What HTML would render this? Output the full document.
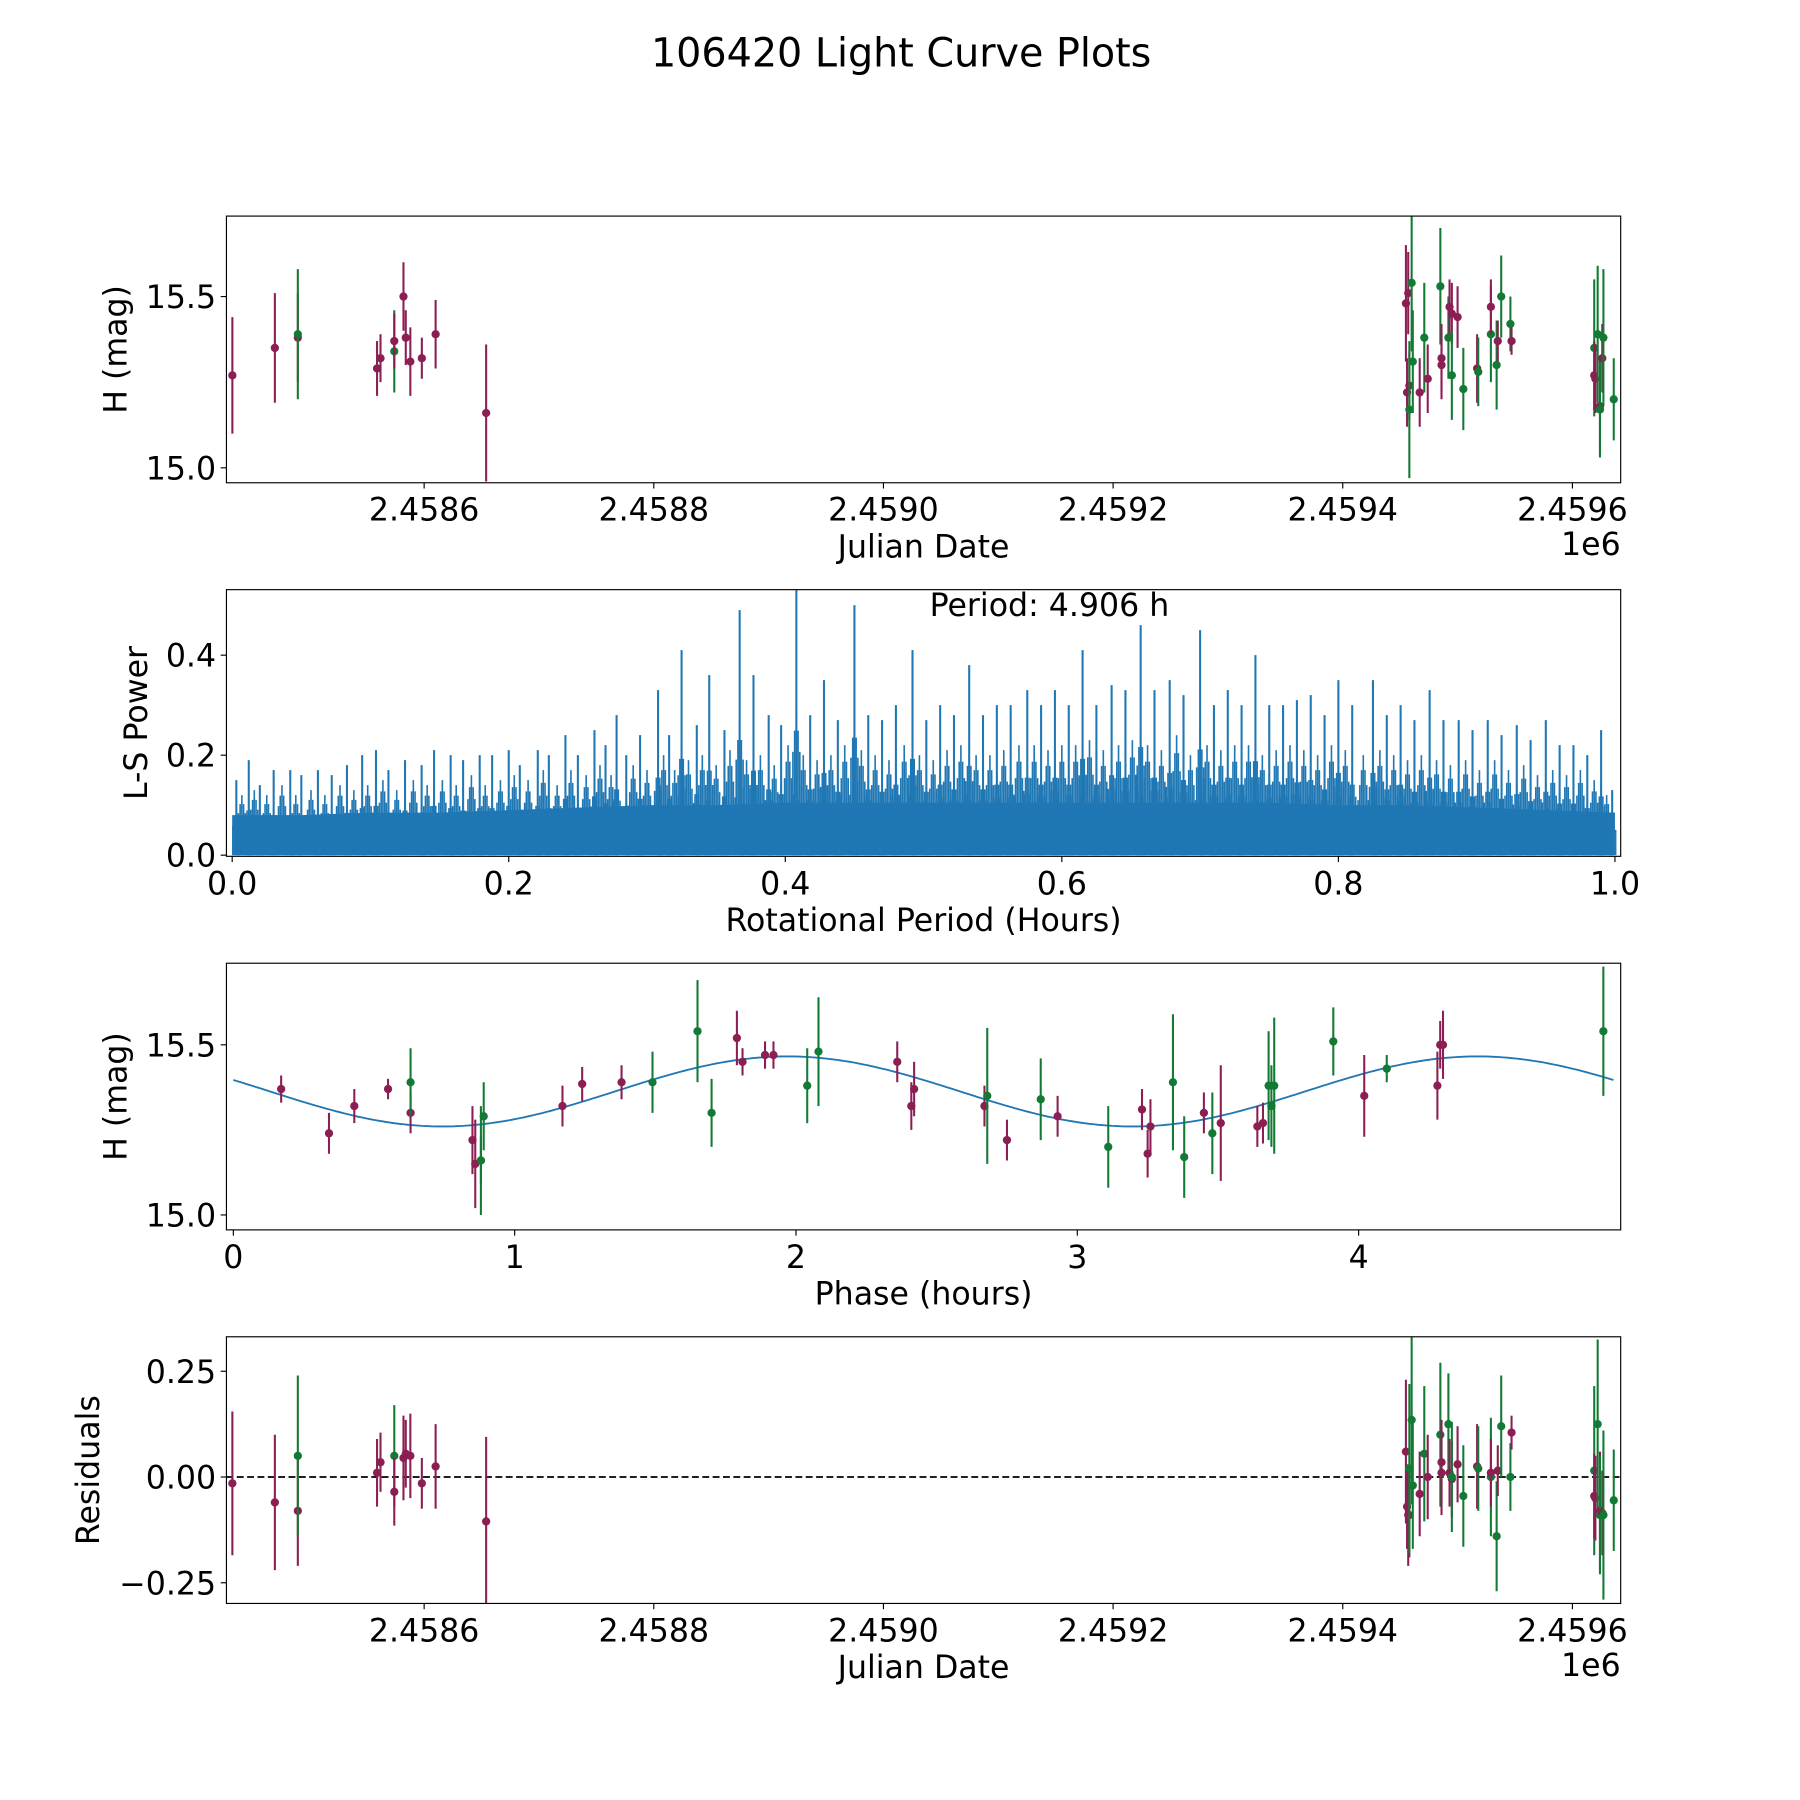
<!DOCTYPE html>
<html><head><meta charset="utf-8"><title>106420 Light Curve Plots</title>
<style>html,body{margin:0;padding:0;background:#fff}svg{display:block}text{font-family:"DejaVu Sans","Liberation Sans",sans-serif;fill:#000}</style>
</head><body>
<svg id="fig" xmlns="http://www.w3.org/2000/svg" width="1800" height="1800" viewBox="0 0 1566 1566">
<rect x="0" y="0" width="1566" height="1566" fill="#fff"/>
<text x="784" y="58" font-size="34.5" text-anchor="middle">106420 Light Curve Plots</text>
<g id="p1"></g>
<g id="p2"></g>
<g id="p3"></g>
<g id="p4"></g>
</svg>
<script>
// ---- data ----
const lcDays=[-167,-130,-110,-110,-41,-38,-26,-26,-18,-16,-12,-2,10,54,
 855,857,860,856,858,858,861,867,871,874,885,886,886,892,893,895,895,900,905,917,918,929,929,934,935,938,946,947,1019,1019,1020,1022,1024,1024,1026,1027,1036];
const lcMag=[15.27,15.35,15.38,15.39,15.29,15.32,15.34,15.37,15.50,15.38,15.31,15.32,15.39,15.16,
 15.48,15.51,15.54,15.22,15.24,15.17,15.31,15.22,15.38,15.26,15.53,15.32,15.30,15.38,15.47,15.45,15.27,15.44,15.23,15.29,15.28,15.39,15.47,15.30,15.37,15.50,15.42,15.37,15.35,15.27,15.26,15.39,15.18,15.17,15.32,15.38,15.20];
const lcErr=[0.17,0.16,0.13,0.19,0.08,0.07,0.12,0.08,0.10,0.08,0.10,0.06,0.10,0.20,
 0.17,0.12,0.2,0.1,0.1,0.2,0.15,0.1,0.16,0.1,0.17,0.1,0.1,0.12,0.08,0.09,0.13,0.09,0.12,0.1,0.1,0.14,0.08,0.13,0.06,0.12,0.08,0.04,0.2,0.1,0.1,0.2,0.14,0.14,0.1,0.2,0.12];
const lcBand=[1,1,1,0,1,1,0,1,1,1,1,1,1,1,
 1,1,0,1,1,0,0,1,0,1,0,1,1,0,1,1,0,1,0,1,0,0,1,0,1,0,0,1,0,1,1,0,1,0,1,0,0].map(b=>b?0:1);
const resid=[-0.015,-0.06,-0.08,0.05,0.01,0.035,0.05,-0.035,0.045,0.055,0.05,-0.015,0.025,-0.105,
 0.06,-0.09,0.135,-0.07,-0.09,0.02,-0.02,-0.04,0.055,0.0,0.10,0.035,0.01,0.125,0.01,-0.005,0.0,0.03,-0.045,0.025,0.02,0.0,0.01,-0.14,0.015,0.12,0.0,0.105,0.015,-0.045,-0.05,0.125,-0.08,-0.09,-0.085,-0.09,-0.055];
const phHours=[0.17,0.34,0.43,0.55,0.63,0.63,0.85,0.86,0.88,0.88,0.89,1.17,1.24,1.38,1.49,1.65,1.70,1.79,1.81,1.89,1.92,2.04,2.08,2.36,2.41,2.42,2.67,2.68,2.75,2.87,2.93,3.11,3.23,3.25,3.26,3.34,3.38,3.45,3.48,3.51,3.64,3.66,3.68,3.69,3.70,3.91,4.02,4.10,4.28,4.29,4.30,4.87];
const phMag=[15.37,15.24,15.32,15.37,15.30,15.39,15.22,15.15,15.16,15.16,15.29,15.32,15.385,15.39,15.39,15.54,15.30,15.52,15.45,15.47,15.47,15.38,15.48,15.45,15.32,15.37,15.32,15.35,15.22,15.34,15.29,15.20,15.31,15.18,15.26,15.39,15.17,15.30,15.24,15.27,15.26,15.27,15.38,15.32,15.38,15.51,15.35,15.43,15.38,15.50,15.50,15.54];
const phErr=[0.04,0.06,0.05,0.03,0.06,0.1,0.1,0.13,0.07,0.16,0.1,0.06,0.05,0.05,0.09,0.15,0.1,0.08,0.04,0.04,0.04,0.11,0.16,0.06,0.07,0.08,0.06,0.2,0.06,0.12,0.06,0.12,0.06,0.07,0.08,0.2,0.12,0.06,0.12,0.17,0.06,0.06,0.16,0.12,0.2,0.1,0.12,0.04,0.1,0.07,0.1,0.19];
const phBand=[0,0,0,0,0,1,0,0,0,1,1,0,0,0,1,1,1,0,0,0,0,1,1,0,0,0,0,1,0,1,0,1,0,0,0,1,1,0,1,0,0,0,1,1,1,1,0,1,0,0,0,1];
const modelMean=15.363, modelAmp=0.103, modelPeak=1.97, modelHalfPeriod=2.453, phaseMax=4.906;
const pgBaseX=[0,0.05,0.1,0.15,0.2,0.25,0.3,0.35,0.4,0.45,0.5,0.55,0.6,0.65,0.7,0.75,0.8,0.85,0.9,0.95,1.0];
const pgBaseY=[0.08,0.08,0.085,0.085,0.09,0.095,0.1,0.1,0.105,0.105,0.105,0.105,0.105,0.105,0.105,0.105,0.1,0.1,0.095,0.09,0.085];
const pgPeakX=[0.003,0.012,0.02,0.03,0.042,0.05,0.062,0.072,0.083,0.094,0.104,0.113,0.125,0.137,0.146,0.158,0.167,0.179,0.188,0.2,0.208,0.221,0.229,0.241,0.25,0.262,0.27,0.278,0.285,0.295,0.308,0.316,0.325,0.336,0.345,0.356,0.367,0.377,0.388,0.397,0.408,0.418,0.428,0.438,0.45,0.46,0.47,0.48,0.492,0.502,0.512,0.522,0.533,0.543,0.553,0.563,0.575,0.585,0.595,0.605,0.615,0.625,0.636,0.646,0.657,0.667,0.678,0.688,0.70,0.71,0.72,0.73,0.74,0.75,0.76,0.77,0.78,0.79,0.80,0.81,0.825,0.835,0.845,0.855,0.866,0.876,0.887,0.897,0.908,0.918,0.929,0.939,0.95,0.96,0.97,0.98,0.99,0.998];
const pgPeakY=[0.15,0.19,0.14,0.17,0.17,0.16,0.17,0.16,0.18,0.2,0.21,0.17,0.19,0.18,0.21,0.2,0.19,0.2,0.2,0.21,0.18,0.21,0.2,0.24,0.2,0.25,0.22,0.28,0.2,0.24,0.33,0.24,0.41,0.26,0.36,0.25,0.49,0.36,0.28,0.26,0.53,0.28,0.35,0.27,0.50,0.28,0.27,0.3,0.41,0.27,0.3,0.28,0.38,0.28,0.3,0.3,0.33,0.3,0.33,0.3,0.41,0.3,0.34,0.33,0.46,0.33,0.35,0.32,0.45,0.3,0.33,0.3,0.40,0.3,0.3,0.31,0.32,0.28,0.35,0.3,0.35,0.28,0.3,0.27,0.33,0.27,0.27,0.25,0.27,0.24,0.26,0.23,0.27,0.22,0.22,0.2,0.25,0.13];
const pgMidX=[0.007,0.016,0.025,0.036,0.046,0.057,0.067,0.078,0.088,0.098,0.109,0.119,0.131,0.141,0.152,0.162,0.173,0.183,0.194,0.204,0.214,0.225,0.235,0.245,0.256,0.266,0.274,0.29,0.3,0.312,0.32,0.33,0.34,0.35,0.36,0.372,0.382,0.392,0.402,0.413,0.423,0.433,0.443,0.455,0.465,0.475,0.486,0.497,0.507,0.517,0.527,0.538,0.548,0.558,0.569,0.58,0.59,0.6,0.61,0.62,0.63,0.641,0.651,0.662,0.672,0.683,0.693,0.705,0.715,0.725,0.735,0.745,0.755,0.765,0.775,0.785,0.795,0.805,0.818,0.83,0.84,0.85,0.86,0.871,0.881,0.892,0.902,0.913,0.923,0.934,0.944,0.955,0.965,0.975,0.985,0.994];
const pgMidY=[0.12,0.13,0.12,0.14,0.12,0.13,0.12,0.14,0.13,0.14,0.15,0.13,0.15,0.14,0.15,0.14,0.16,0.14,0.15,0.16,0.15,0.17,0.14,0.17,0.16,0.18,0.16,0.18,0.17,0.2,0.17,0.19,0.2,0.18,0.21,0.19,0.2,0.18,0.22,0.2,0.19,0.2,0.22,0.21,0.2,0.19,0.22,0.2,0.19,0.21,0.22,0.2,0.2,0.21,0.22,0.22,0.21,0.22,0.22,0.23,0.21,0.22,0.23,0.22,0.21,0.24,0.2,0.22,0.21,0.22,0.22,0.2,0.21,0.22,0.21,0.2,0.22,0.21,0.2,0.21,0.2,0.19,0.2,0.19,0.18,0.19,0.17,0.19,0.17,0.18,0.16,0.17,0.16,0.17,0.15,0.12];
const jdTicks=[2458600,2458800,2459000,2459200,2459400,2459600];
const jdTickLabels=["2.4586","2.4588","2.4590","2.4592","2.4594","2.4596"];
const magTicks=[15.0,15.5], magTickLabels=["15.0","15.5"];
const pgYTicks=[0,0.2,0.4], pgYLabels=["0.0","0.2","0.4"];
const pgXTicks=[0,0.2,0.4,0.6,0.8,1.0], pgXLabels=["0.0","0.2","0.4","0.6","0.8","1.0"];
const phXTicks=[0,1,2,3,4], phXLabels=["0","1","2","3","4"];
const resTicks=[-0.25,0,0.25], resLabels=["\u22120.25","0.00","0.25"];

// ---- drawing ----
const NS="http://www.w3.org/2000/svg";
const COL=["#8b1e52","#127a34"];
const FS=27.5;
function mk(tag,attrs,parent){const e=document.createElementNS(NS,tag);for(const k in attrs)e.setAttribute(k,attrs[k]);parent.appendChild(e);return e;}
function lin(d0,d1,r0,r1){return v=>r0+(v-d0)*(r1-r0)/(d1-d0);}
const L=197,R=1410;
const jdX=lin(2458600,2459600,369,1368);

function frame(g,top,bot,xs,xt,xl,ys,yt,yl,xlabel,ylabel,ylabX){
  const r=mk('rect',{x:L,y:top,width:R-L,height:bot-top,fill:'none',stroke:'#000','stroke-width':1},g);
  
  
  xt.forEach((v,i)=>{const x=xs(v);
    const t=mk('line',{x1:x,x2:x,y1:bot,y2:bot+5,stroke:'#000'},g);
    
    
    const tx=mk('text',{x:x,y:bot+33,'font-size':FS,'text-anchor':'middle'},g);tx.textContent=xl[i];
    
    });
  yt.forEach((v,i)=>{const y=ys(v);
    const t=mk('line',{x1:L-5,x2:L,y1:y,y2:y,stroke:'#000'},g);
    
    
    const tx=mk('text',{x:L-9,y:y+10,'font-size':FS,'text-anchor':'end'},g);tx.textContent=yl[i];
    
    });
  const xlb=mk('text',{x:(L+R)/2,y:bot+65,'font-size':FS,'text-anchor':'middle'},g);xlb.textContent=xlabel;
  
  
  const cy=(top+bot)/2;
  const ylb=mk('text',{x:ylabX,y:cy,'font-size':FS,'text-anchor':'middle',transform:`rotate(-90 ${ylabX} ${cy})`},g);ylb.textContent=ylabel;
  
  
}
function offsetText(g,bot){const t=mk('text',{x:R,y:bot+63,'font-size':FS,'text-anchor':'end'},g);t.textContent='1e6';
  
  }
function clip(id,top,bot){const d=mk('clipPath',{id:id},document.getElementById('fig'));mk('rect',{x:L,y:top,width:R-L,height:bot-top},d);}
function pts(g,xsArr,ysArr,errArr,band,xs,ys,name){
  xsArr.forEach((xv,i)=>{const x=xs(xv),y=ys(ysArr[i]);const c=COL[band[i]];
    const l=mk('line',{x1:x,x2:x,y1:ys(ysArr[i]-errArr[i]),y2:ys(ysArr[i]+errArr[i]),stroke:c,'stroke-width':1.8},g);
    
    
    const p=mk('circle',{cx:x,cy:y,r:3.6,fill:c},g);
    
    });
}

// Panel 1
(function(){const g=document.getElementById('p1');const top=188,bot=420;
 const ys=lin(15.0,15.5,407,258);clip('c1',top,bot);
 const d=mk('g',{'clip-path':'url(#c1)'},g);
 pts(d,lcDays.map(v=>v+2458600),lcMag,lcErr,lcBand,jdX,ys,'light-curve-point');
 frame(g,top,bot,jdX,jdTicks,jdTickLabels,ys,magTicks,magTickLabels,'Julian Date','H (mag)',110);offsetText(g,bot);})();

// Panel 2
(function(){const g=document.getElementById('p2');const top=513,bot=745;
 const xs=lin(0,1,202,1405),ys=lin(0,0.4,744,570);clip('c2',top,bot);
 const d=mk('g',{'clip-path':'url(#c2)'},g);
 let pstr=`${xs(pgBaseX[0])},${ys(0)} `+pgBaseX.map((v,i)=>`${xs(v)},${ys(pgBaseY[i])}`).join(' ')+` ${xs(pgBaseX[pgBaseX.length-1])},${ys(0)}`;
 const poly=mk('polygon',{points:pstr,fill:'#1f77b4'},d);
 
 
 pgMidX.forEach((v,i)=>{for(let k=-3;k<=3;k++){const x=xs(v)+k*1.5;const h=pgMidY[i]*(1-Math.abs(k)*0.15);
   const l=mk('line',{x1:x,x2:x,y1:ys(0),y2:ys(h),stroke:'#1f77b4','stroke-width':1.4},d);
   
   }});
 pgPeakX.forEach((v,i)=>{const x=xs(v);
   for(let k=-2;k<=2;k++){const w=mk('line',{x1:x+k*1.5,x2:x+k*1.5,y1:ys(0),y2:ys(pgPeakY[i]*(0.55-Math.abs(k)*0.08)),stroke:'#1f77b4','stroke-width':1.4},d);
   
   }
   const l=mk('line',{x1:x,x2:x,y1:ys(0),y2:ys(pgPeakY[i]),stroke:'#1f77b4','stroke-width':1.8},d);
   
   });
 frame(g,top,bot,xs,pgXTicks,pgXLabels,ys,pgYTicks,pgYLabels,'Rotational Period (Hours)','L-S Power',128);
 const t=mk('text',{x:913,y:536,'font-size':FS,'text-anchor':'middle'},g);t.textContent='Period: 4.906 h';
 
 })();

// Panel 3
(function(){const g=document.getElementById('p3');const top=838,bot=1070;
 const xs=lin(0,4,203,1182),ys=lin(15.0,15.5,1057,909);clip('c3',top,bot);
 const d=mk('g',{'clip-path':'url(#c3)'},g);
 let s='';for(let i=0;i<=300;i++){const t=phaseMax*i/300;const m=modelMean+modelAmp*Math.cos(2*Math.PI*(t-modelPeak)/modelHalfPeriod);s+=(i?'L':'M')+xs(t).toFixed(1)+','+ys(m).toFixed(1);}
 const cv=mk('path',{d:s,fill:'none',stroke:'#1f77b4','stroke-width':1.6},d);
 
 
 pts(d,phHours,phMag,phErr,phBand,xs,ys,'phase-point');
 frame(g,top,bot,xs,phXTicks,phXLabels,ys,magTicks,magTickLabels,'Phase (hours)','H (mag)',110);})();

// Panel 4
(function(){const g=document.getElementById('p4');const top=1163,bot=1395;
 const ys=lin(0,0.25,1285,1193);clip('c4',top,bot);
 const d=mk('g',{'clip-path':'url(#c4)'},g);
 const z=mk('line',{x1:L,x2:R,y1:ys(0),y2:ys(0),stroke:'#000','stroke-width':1.5,'stroke-dasharray':'6,3'},d);
 
 
 pts(d,lcDays.map(v=>v+2458600),resid,lcErr,lcBand,jdX,ys,'residual-point');
 frame(g,top,bot,jdX,jdTicks,jdTickLabels,ys,resTicks,resLabels,'Julian Date','Residuals',86);offsetText(g,bot);})();
</script>
</body></html>
